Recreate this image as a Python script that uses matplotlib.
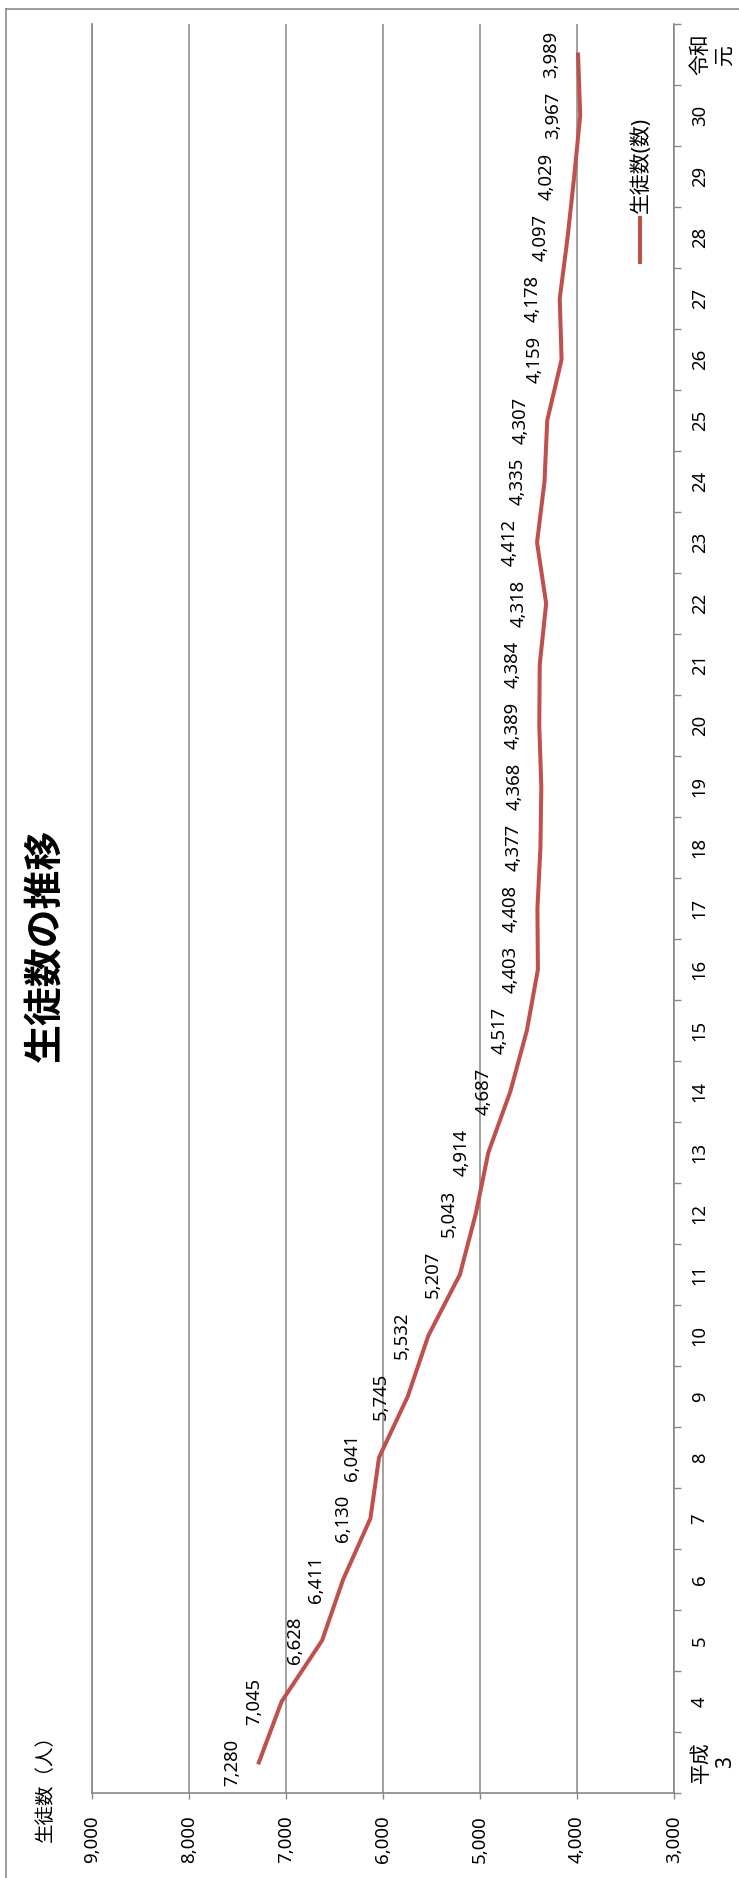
import numpy as np
import matplotlib
matplotlib.use("Agg")
import matplotlib.pyplot as plt
from matplotlib.lines import Line2D

plt.rcParams['font.family'] = ['Noto Sans', 'Noto Sans CJK JP', 'DejaVu Sans']

# data
years = ["平成\n3", "4", "5", "6", "7", "8", "9", "10", "11", "12", "13", "14",
         "15", "16", "17", "18", "19", "20", "21", "22", "23", "24", "25",
         "26", "27", "28", "29", "30", "令和\n元"]
students = [7280, 7045, 6628, 6411, 6130, 6041, 5745, 5532, 5207, 5043, 4914,
            4687, 4517, 4403, 4408, 4377, 4368, 4389, 4384, 4318, 4412, 4335,
            4307, 4159, 4178, 4097, 4029, 3967, 3989]
value_ticks = [9000, 8000, 7000, 6000, 5000, 4000, 3000]

title = "生徒数の推移"
ylabel = "生徒数（人）"
series_name = "生徒数(数)"

line_color = "#C0504D"
grid_color = "#878787"

W, H = 739, 1878
def fx(px):
    return px / W
def fy(py):
    return 1 - py / H

fig = plt.figure(figsize=(W / 100, H / 100), dpi=100)

# outer frame (cut off at right / bottom)
fig.add_artist(Line2D([fx(6), fx(6)], [fy(9), 0], color="#8c8c8c", lw=1.2))
fig.add_artist(Line2D([fx(6), 1], [fy(9), fy(9)], color="#8c8c8c", lw=1.2))

ax = fig.add_axes([fx(92), fy(1793), fx(674) - fx(92), fy(24) - fy(1793)])

pos = np.arange(len(years))
ax.plot(students, pos, color=line_color, lw=2.9, solid_joinstyle="miter")

for i, v in enumerate(students):
    ax.annotate("{:,}".format(v), (v, i), xytext=(-19.5, 0),
                textcoords="offset points", rotation=90,
                ha="center", va="center", fontsize=13.3)

#
ax.set_xlim(9000, 3000)
ax.set_ylim(-0.5, len(years) - 0.5)

ax.set_xticks(value_ticks)
ax.set_xticklabels(["{:,}".format(t) for t in value_ticks], rotation=90)
ax.tick_params(axis="x", direction="out", length=4.3, width=1.0,
               color=grid_color, pad=12, labelsize=13.5)
ax.grid(axis="x", color=grid_color, lw=1.1)

#
ax.yaxis.tick_right()
ax.set_yticks(np.arange(-0.5, len(years), 1.0))
ax.set_yticklabels([])
ax.set_yticks(pos, minor=True)
ax.set_yticklabels(years, minor=True, rotation=90, va="center", ha="left",
                   multialignment="center")
ax.tick_params(axis="y", which="major", direction="out", length=4.7,
               width=1.0, color=grid_color, right=True, left=False)
ax.tick_params(axis="y", which="minor", length=0, right=True, left=False,
               labelright=True, labelleft=False, pad=12, labelsize=13.3)
for lab in ax.get_yticklabels(minor=True):
    if "\n" in lab.get_text():
        lab.set_fontsize(15)

for s in ["top"]:
    ax.spines[s].set_visible(False)
for s in ["left", "right", "bottom"]:
    ax.spines[s].set_color(grid_color)
    ax.spines[s].set_linewidth(1.2)

# texts
fig.text(fx(47), fy(945), title, rotation=90, fontsize=28,
         fontweight="bold", ha="center", va="center")
fig.text(fx(46), fy(1842), ylabel, rotation=90, fontsize=14,
         ha="center", va="bottom")

# legend
fig.add_artist(Line2D([fx(640), fx(640)], [fy(262), fy(218)],
                      color=line_color, lw=2.9))
fig.text(fx(641), fy(213), series_name, rotation=90, fontsize=15,
         ha="center", va="bottom")

fig.savefig("out.png", dpi=100)
